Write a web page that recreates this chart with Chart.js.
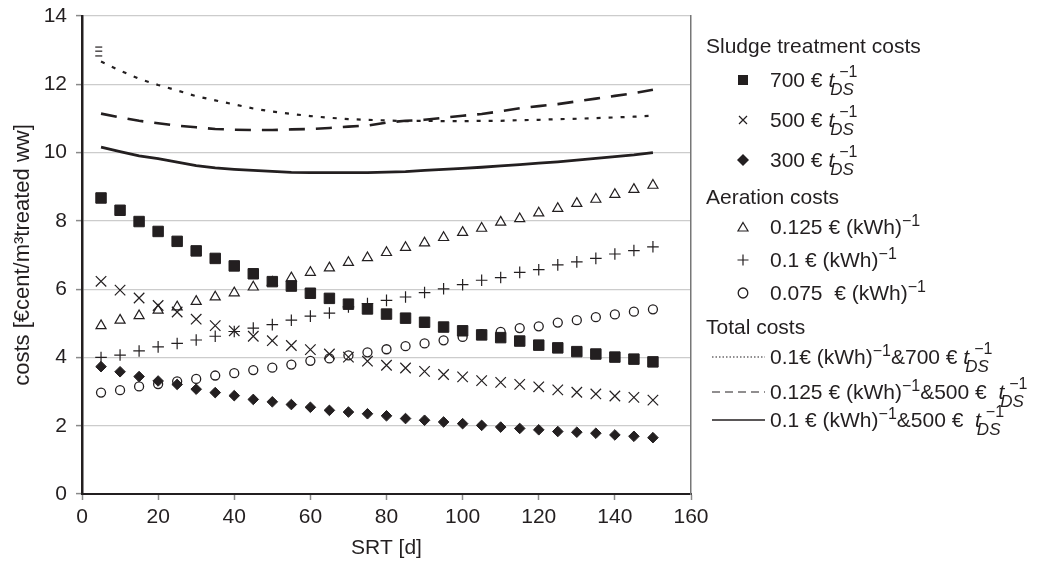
<!DOCTYPE html>
<html>
<head>
<meta charset="utf-8">
<script src="https://cdn.jsdelivr.net/npm/chart.js@4.4.0/dist/chart.umd.min.js"></script>
<style>
html, body { margin: 0; padding: 0; background: #fff; }
#wrap { position: relative; width: 1040px; height: 562px; font-family: "Liberation Sans", Arial, sans-serif; color: #231f20; }
#wrap canvas { position: absolute; left: 0; top: 0; }
.row { position: absolute; white-space: nowrap; font-size: 21px; line-height: 20px; height: 20px; transform: translateY(-50%); }
.head { left: 706px; }
.item { left: 734px; }
.item .mk { display: inline-block; width: 18px; height: 20px; vertical-align: top; }
.item .tx { position: absolute; left: 36px; top: 0; }
.lin { left: 711px; }
.lin svg { display: inline-block; vertical-align: top; }
.lin .tx { position: absolute; left: 59px; top: 0; }
.t { font-style: italic; }
.ss { position: relative; display: inline-block; width: 27px; height: 20px; vertical-align: top; margin-left: -4px; }
.ss .sp { position: absolute; left: 9px; top: -6px; font-size: 16px; line-height: 15px; }
.ss .sb { position: absolute; left: 0; top: 12px; font-size: 17px; line-height: 16px; font-style: italic; }
.kw { position: relative; top: -8px; font-size: 16px; }
</style>
</head>
<body>
<div id="wrap">
  <canvas id="chart" width="1040" height="562"></canvas>
  <div class="row head" style="top:46px">Sludge treatment costs</div>
  <div class="row item" style="top:80px"><svg class="mk" width="18" height="20"><rect x="4" y="5" width="10" height="10" fill="#231f20"/></svg><span class="tx">700 € <span class="t">t</span><span class="ss"><span class="sp">−1</span><span class="sb">DS</span></span></span></div>
  <div class="row item" style="top:120px"><svg class="mk" width="18" height="20"><path d="M5 6 L13 14 M13 6 L5 14" stroke="#231f20" stroke-width="1.2"/></svg><span class="tx">500 € <span class="t">t</span><span class="ss"><span class="sp">−1</span><span class="sb">DS</span></span></span></div>
  <div class="row item" style="top:160px"><svg class="mk" width="18" height="20"><path d="M9 4 L15 10 L9 16 L3 10 Z" fill="#231f20"/></svg><span class="tx">300 € <span class="t">t</span><span class="ss"><span class="sp">−1</span><span class="sb">DS</span></span></span></div>
  <div class="row head" style="top:197px">Aeration costs</div>
  <div class="row item" style="top:227px"><svg class="mk" width="18" height="20"><path d="M9 5.5 L14 14 L4 14 Z" fill="#fff" stroke="#231f20" stroke-width="1.2"/></svg><span class="tx">0.125 € (kWh)<span class="kw">−1</span></span></div>
  <div class="row item" style="top:260px"><svg class="mk" width="18" height="20"><path d="M9 4.5 L9 15.5 M3.5 10 L14.5 10" stroke="#231f20" stroke-width="1.2"/></svg><span class="tx">0.1 € (kWh)<span class="kw">−1</span></span></div>
  <div class="row item" style="top:293px"><svg class="mk" width="18" height="20"><ellipse cx="9" cy="10" rx="4.8" ry="5" fill="#fff" stroke="#231f20" stroke-width="1.3"/></svg><span class="tx">0.075&nbsp; € (kWh)<span class="kw">−1</span></span></div>
  <div class="row head" style="top:327px">Total costs</div>
  <div class="row lin" style="top:357px"><svg width="55" height="20"><line x1="1" y1="10" x2="54" y2="10" stroke="#231f20" stroke-width="1.2" stroke-dasharray="1.5 2"/></svg><span class="tx">0.1€ (kWh)<span class="kw">−1</span>&amp;700 € <span class="t">t</span><span class="ss"><span class="sp">−1</span><span class="sb">DS</span></span></span></div>
  <div class="row lin" style="top:392px"><svg width="55" height="20"><line x1="1" y1="10" x2="54" y2="10" stroke="#231f20" stroke-width="1.2" stroke-dasharray="8 5"/></svg><span class="tx">0.125 € (kWh)<span class="kw">−1</span>&amp;500 €&nbsp; <span class="t">t</span><span class="ss"><span class="sp">−1</span><span class="sb">DS</span></span></span></div>
  <div class="row lin" style="top:420px"><svg width="55" height="20"><line x1="1" y1="10" x2="54" y2="10" stroke="#231f20" stroke-width="1.5"/></svg><span class="tx">0.1 € (kWh)<span class="kw">−1</span>&amp;500 €&nbsp; <span class="t">t</span><span class="ss"><span class="sp">−1</span><span class="sb">DS</span></span></span></div>
</div>
<script>
// SRT values (days)
const srt = [5, 10, 15, 20, 25, 30, 35, 40, 45, 50, 55, 60, 65, 70, 75, 80, 85, 90, 95, 100, 105, 110, 115, 120, 125, 130, 135, 140, 145, 150];

// sludge treatment costs
const sludge700 = [8.67, 8.31, 7.98, 7.69, 7.40, 7.12, 6.90, 6.68, 6.45, 6.22, 6.09, 5.88, 5.73, 5.56, 5.42, 5.27, 5.15, 5.03, 4.89, 4.78, 4.66, 4.58, 4.48, 4.36, 4.28, 4.17, 4.10, 4.01, 3.95, 3.87];
const sludge500 = [6.23, 5.97, 5.74, 5.52, 5.33, 5.12, 4.93, 4.78, 4.62, 4.49, 4.35, 4.23, 4.10, 4.01, 3.89, 3.77, 3.69, 3.59, 3.50, 3.43, 3.32, 3.27, 3.21, 3.14, 3.05, 2.98, 2.93, 2.87, 2.83, 2.75];
const sludge300 = [3.73, 3.58, 3.44, 3.31, 3.21, 3.07, 2.97, 2.88, 2.77, 2.70, 2.62, 2.54, 2.45, 2.40, 2.35, 2.29, 2.21, 2.16, 2.11, 2.06, 2.01, 1.96, 1.92, 1.88, 1.83, 1.81, 1.78, 1.73, 1.69, 1.65];

// aeration costs
const air0125 = [4.93, 5.09, 5.22, 5.38, 5.48, 5.64, 5.77, 5.89, 6.06, 6.20, 6.33, 6.49, 6.62, 6.78, 6.92, 7.07, 7.22, 7.35, 7.51, 7.66, 7.78, 7.96, 8.06, 8.23, 8.36, 8.51, 8.63, 8.77, 8.92, 9.04];
const air0100 = [4.00, 4.07, 4.19, 4.31, 4.41, 4.51, 4.62, 4.76, 4.86, 4.96, 5.09, 5.21, 5.30, 5.48, 5.58, 5.67, 5.77, 5.90, 6.01, 6.13, 6.26, 6.34, 6.49, 6.57, 6.71, 6.80, 6.90, 7.03, 7.13, 7.24];
const air0075 = [2.97, 3.04, 3.15, 3.22, 3.30, 3.37, 3.47, 3.54, 3.63, 3.70, 3.79, 3.90, 3.97, 4.06, 4.15, 4.24, 4.33, 4.41, 4.50, 4.60, 4.68, 4.75, 4.86, 4.91, 5.02, 5.09, 5.18, 5.26, 5.34, 5.41];

// total costs
const total_01_700 = [12.67, 12.40, 12.16, 11.98, 11.82, 11.65, 11.53, 11.41, 11.29, 11.20, 11.13, 11.07, 11.02, 10.98, 10.96, 10.94, 10.92, 10.93, 10.92, 10.92, 10.93, 10.93, 10.95, 10.96, 10.98, 10.99, 11.01, 11.03, 11.05, 11.08];
const total_0125_500 = [11.14, 11.03, 10.93, 10.86, 10.79, 10.74, 10.69, 10.67, 10.66, 10.66, 10.68, 10.69, 10.72, 10.76, 10.79, 10.88, 10.93, 10.96, 11.02, 11.08, 11.13, 11.21, 11.30, 11.36, 11.42, 11.50, 11.58, 11.66, 11.74, 11.84];
const total_01_500 = [10.16, 10.03, 9.90, 9.82, 9.72, 9.62, 9.55, 9.51, 9.48, 9.45, 9.42, 9.41, 9.41, 9.41, 9.41, 9.43, 9.44, 9.48, 9.51, 9.54, 9.57, 9.61, 9.65, 9.69, 9.73, 9.78, 9.83, 9.88, 9.93, 10.00];

// stray dash marks at the start of the dotted curve
const markX = [4.4, 4.4, 4.4];
const markY = [13.09, 12.97, 12.83];

const ink = '#231f20';
const fontFamily = '"Liberation Sans", Arial, sans-serif';

function pts(xs, ys) {
    return xs.map((x, i) => ({ x: x, y: ys[i] }));
}
function markers(data, style, radius, fill, width) {
    return { data: pts(srt, data), showLine: false, pointStyle: style, pointRadius: radius, pointBackgroundColor: fill, pointBorderColor: ink, pointBorderWidth: width };
}
function curve(data, dash, width) {
    return { data: pts(srt, data), showLine: true, borderColor: ink, borderWidth: width, borderDash: dash, pointRadius: 0, tension: 0, fill: false };
}

const datasets = [
    markers(sludge700, 'rect', 7.4, ink, 1),
    markers(sludge500, 'crossRot', 7.4, ink, 1.2),
    markers(sludge300, 'rectRot', 5.3, ink, 1),
    markers(air0125, 'triangle', 5.8, '#fff', 1.2),
    markers(air0100, 'cross', 5.8, ink, 1.2),
    markers(air0075, 'circle', 4.5, '#fff', 1.3),
    curve(total_01_700, [4, 8], 2.2),
    curve(total_0125_500, [16, 11], 2.6),
    curve(total_01_500, [], 2.8),
    { data: pts(markX, markY), showLine: false, pointStyle: 'line', pointRadius: 3.5, pointBorderColor: ink, pointBorderWidth: 1.2 }
];

new Chart(document.getElementById('chart'), {
    type: 'scatter',
    data: { datasets: datasets },
    options: {
        responsive: false,
        animation: false,
        events: [],
        layout: { padding: { left: 0, right: 349, top: 16, bottom: 0 } },
        plugins: { legend: { display: false }, tooltip: { enabled: false } },
        scales: {
            x: {
                type: 'linear', min: 0, max: 160,
                ticks: { stepSize: 20, color: ink, font: { family: fontFamily, size: 21 }, padding: 5, maxRotation: 0 },
                grid: { drawOnChartArea: false, drawTicks: true, tickLength: 6, tickColor: '#8a8a8a', tickWidth: 1.5 },
                border: { color: ink, width: 2 },
                title: { display: true, text: 'SRT [d]', color: ink, font: { family: fontFamily, size: 21 }, padding: { top: 4, bottom: 1 } },
                afterFit: (scale) => { scale.height = 68; }
            },
            y: {
                type: 'linear', min: 0, max: 14,
                ticks: { stepSize: 2, color: ink, font: { family: fontFamily, size: 21 }, padding: 9 },
                grid: { color: '#cccccc', lineWidth: 1.2, drawTicks: true, tickLength: 6, tickColor: '#8a8a8a', tickWidth: 1.5 },
                border: { color: ink, width: 2.5 },
                title: { display: true, text: 'costs [€cent/m³treated ww]', color: ink, font: { family: fontFamily, size: 22 }, padding: { top: 10, bottom: 0 } },
                afterFit: (scale) => { scale.width = 82; scale.paddingTop = 0; scale.paddingBottom = 0; }
            },
            y2: {
                position: 'right', min: 0, max: 14,
                ticks: { display: false },
                grid: { drawOnChartArea: false, drawTicks: false },
                border: { color: '#777777', width: 1.5 },
                afterFit: (scale) => { scale.width = 0; scale.paddingTop = 0; scale.paddingBottom = 0; }
            }
        }
    }
});
</script>
</body>
</html>
